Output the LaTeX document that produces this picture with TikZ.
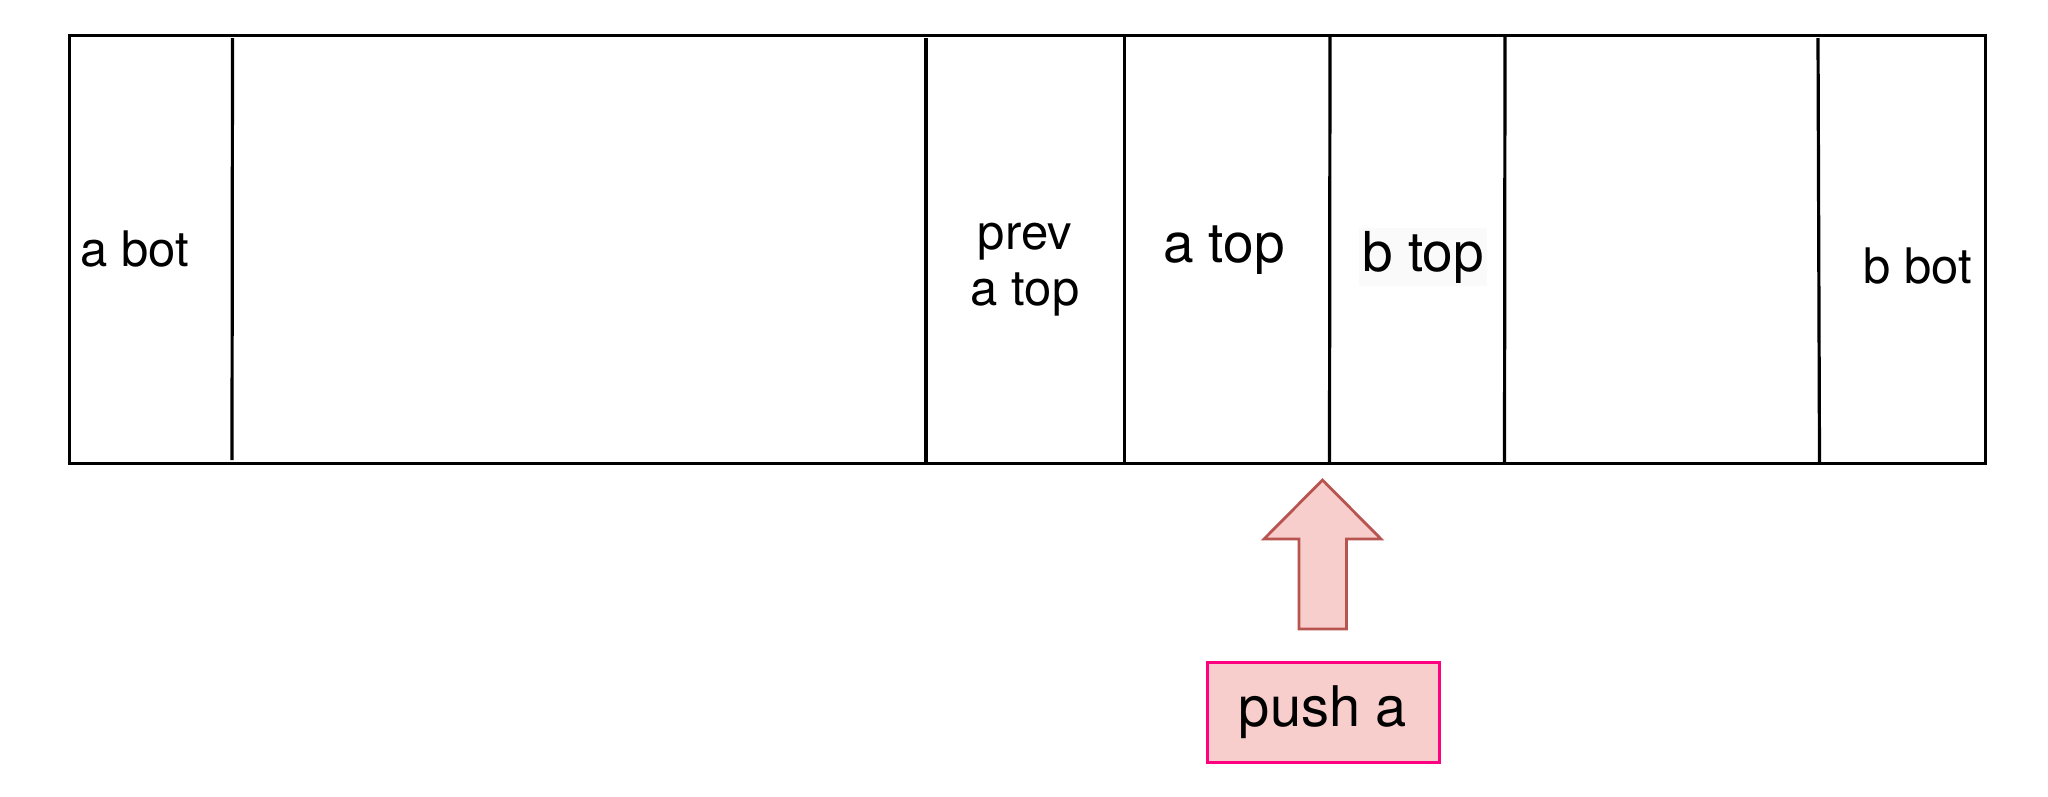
\documentclass[tikz,border=0pt]{standalone}
\usepackage{fontspec}
\setmainfont{TeX Gyre Heros}
\definecolor{arrowfill}{HTML}{F8CECC}
\definecolor{arrowline}{HTML}{B85450}
\definecolor{boxline}{HTML}{FF0080}
\begin{document}
\begin{tikzpicture}[x=1pt,y=-1pt,
  cellline/.style={line width=3.2pt,black},
  lbl/.style={inner sep=0pt,align=center,font=\fontsize{49}{56}\selectfont},
  biglbl/.style={inner sep=0pt,align=center,font=\fontsize{55}{62}\selectfont}]
\useasboundingbox (0,0) rectangle (2048,796);
% outer box
\node[draw,line width=3.4pt,minimum width=1916pt,minimum height=428pt,inner sep=0pt,anchor=north west] (mem) at (68,34) {};
% dividers
\draw[cellline] (232.5,38) -- (232,460);
\draw[cellline] (926,38) -- (926,462);
\draw[cellline] (1124.5,34) -- (1124.5,462);
\draw[cellline] (1330,34) -- (1329.5,462);
\draw[cellline] (1505,34) -- (1504.5,462);
\draw[cellline] (1818,38) -- (1819.5,462);
% labels
\node[lbl] (abot) at (134.5,249) {a bot};
\node[lbl] (prev) at (1025,270) {prev\\a top};
\node[biglbl] (atop) at (1224,250) {a top};
\node[biglbl,fill=black!2,inner sep=3pt] (btop) at (1423,257) {b top};
\node[lbl] (bbot) at (1918,266) {b bot};
% push box
\node[draw=boxline,fill=arrowfill,line width=3pt,minimum width=232pt,minimum height=100pt,inner sep=0pt,font=\fontsize{56}{62}\selectfont] (push) at (1323,712) {push a};
% block arrow
\coordinate (tip) at (1322.5,480);
\draw[draw=arrowline,fill=arrowfill,line width=2.8pt,line join=miter]
  (tip) -- (1381,539) -- (1346.5,539) -- (1346.5,629) -- (1299,629) -- (1299,539) -- (1264,539) -- cycle;
\end{tikzpicture}
\end{document}
